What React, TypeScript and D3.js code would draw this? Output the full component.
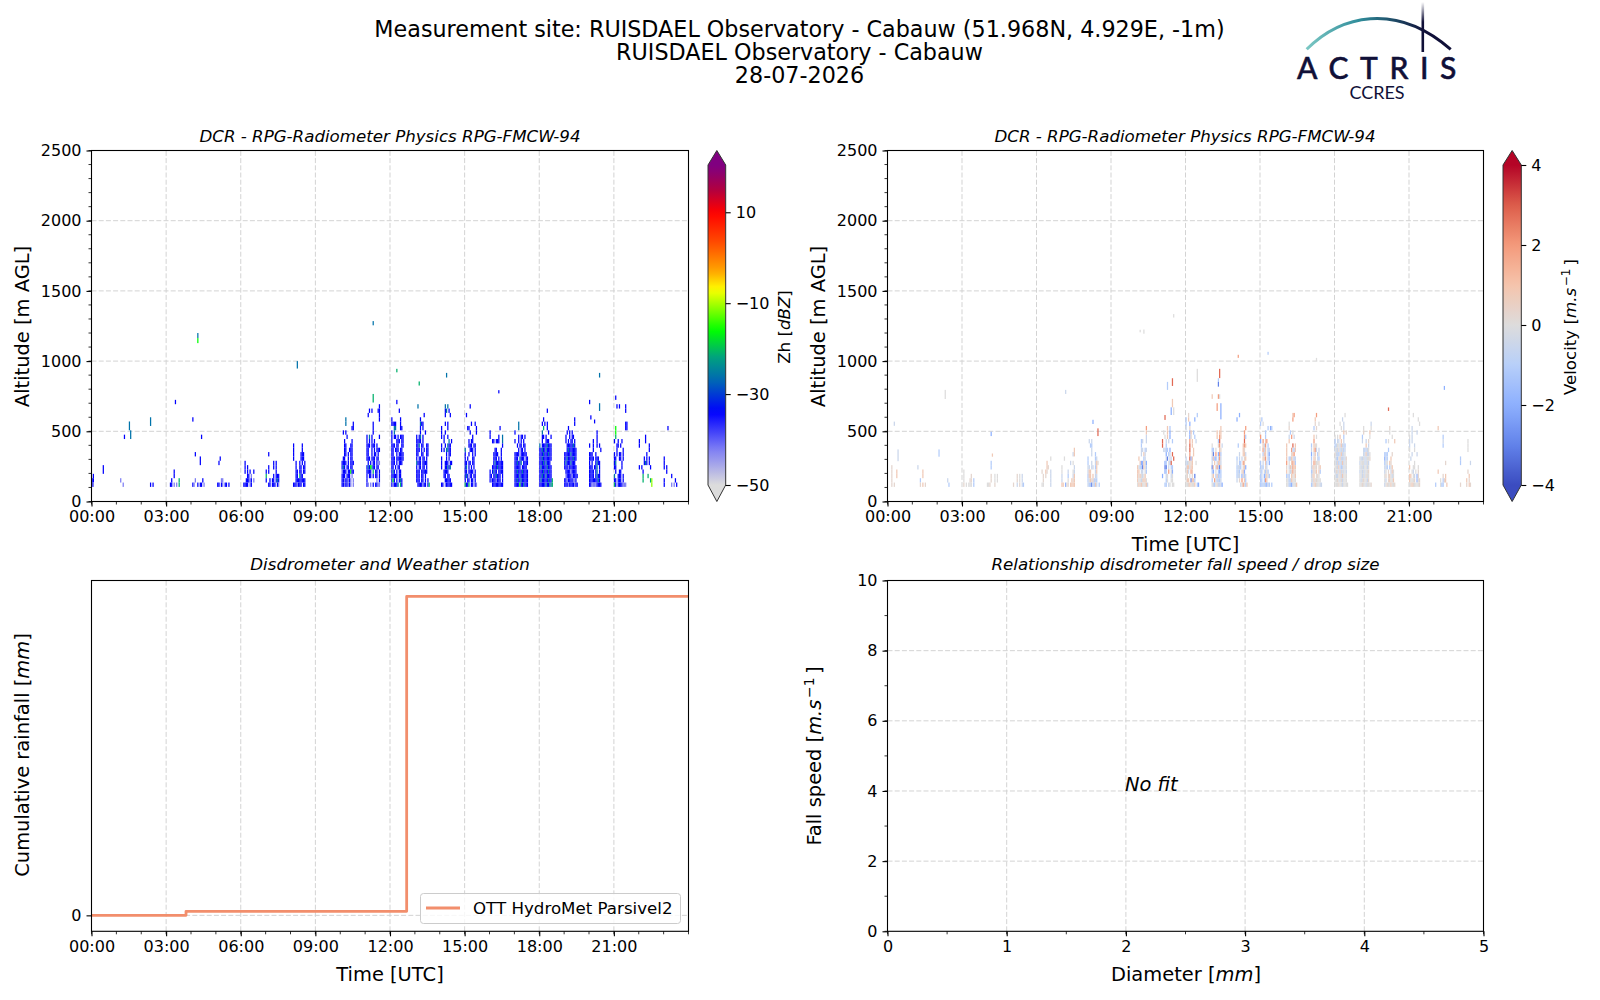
import React, { useEffect, useRef } from "react";
import * as d3 from "d3";

type Burst = { col: number; rows: string[] };
type Speck = [number, number, number, string];

// radar sampling: 3 minute columns, 31 m range gates starting at 104 m
const binMinutes = 3;
const gateBase = 104;
const gateSize = 31;

const timeTicks = [0, 3, 6, 9, 12, 15, 18, 21];
const timeLabels = ["00:00", "03:00", "06:00", "09:00", "12:00", "15:00", "18:00", "21:00"];
const hourMinor = d3.range(0, 25);
const altTicks = [0, 500, 1000, 1500, 2000, 2500];
const altMinor = d3.range(0, 2501, 100);

const zhBarTicks = [-50, -30, -10, 10];
const zhStops = [-50, -42, -34, -27, -22, -16, -7, -3, 3, 10, 15, 20];
const zhColors = ["#dcdcdc", "#7c7cf4", "#0000ff", "#0068b4", "#00a080", "#00ff00", "#ffff00", "#ffa500", "#ff5000", "#ff0000", "#b00040", "#800080"];
const velBarTicks = [-4, -2, 0, 2, 4];
const velStops = [-4, -3, -2, -1, 0, 1, 2, 3, 4];
const velColors = ["#3b4cc0", "#6282ea", "#8db0fe", "#b7cff9", "#dddcdc", "#f5c4ac", "#f49a7b", "#dc5d4a", "#b40426"];

// letter codes used in the rasters below
const zhLevels: Record<string, number> = { a: -42, b: -34, d: -26, e: -21, f: -16, g: -11 };
const velLevels: Record<string, number> = { a: -3, b: -2, c: -1.1, d: -0.5, e: 0, f: 0.3, g: 0.8, h: 1.9, i: 2.8 };

// each burst: first column, then gates from the top one down to the 104 m one
const zhBursts: Burst[] = [
    { col: 0, rows: [".b", "bb", "ba"] },
    { col: 63, rows: ["...b", "...b", ".b.....e", "bb.a.a.e"] },
    { col: 81, rows: ["..a.....b", "ba..b.bb.a"] },
    { col: 101, rows: ["..b", ".b", "", "", "", "...aa", "bb.ba.bb.b"] },
    { col: 122, rows: [".b", ".b.b", ".b.b.b..b", "...bb.a", "..bbbab.a", "bbbb.ab"] },
    { col: 140, rows: ["..b", "", "......b.b", "..b...b.b", "b.b.....b", "e.....b.bbb", "b..b.bb.bdb", "..bb.bbb.ba"] },
    { col: 162, rows: ["b......b", "b......b", "b.....bbb", "b.....bbb", "..b..b.b.b", "..b..bb.bb", "..bb.bb.bb", "..bb.ebb", "..bbbbbbbb", "bbbabbb.bb"] },
    { col: 201, rows: ["...d", "...d.....b", "........bb", ".b.b", "....b", "..b.....b", "..bb...bb", "..bb..bbb", "..bb.b.bb", ".bb..b.bb", "bbbb.b.bbb", "bdb.bb.bb", "abbb.bbfbb", "bbb.bbb.a", "bbabbaba.a", "bbabbaba.a"] },
    { col: 221, rows: ["..........b", "..b.b....bb", ".b........b", "..........b", ".....b", ".....b", ".....b", "b.d.b.....b", "b.b.b.b", "bbb.bbb.b", "bb..b.b.bbb", "bb..b.bb.b", "bbb.bbb.bb", ".b.b.bb.baa", "bdbfebb.bb", "bbbb.e.bb.b", "b.bb.b.bb.b", "b.......a.b", "ba.a.b.bbaa"] },
    { col: 241, rows: ["....b", "", "......b", "", "b......b", "bbbb...b", "..dd...bb", "b.d", "b.bb.b.bbb", "b...bbb.bb", "bbb.bb..bb", "bb.bbb.bb", "bb..b.bbbb", "bbb.bbbbbb", "bbb.b.bbb", "bb.b.bb", "bdb.b.bb", "bbbbb.bb", "bfb.b.bdb", "babbbd.eb"] },
    { col: 261, rows: [".d", "", "......b", "...b", "...dbb", "...b.b", "...b...b", "b.bd.b", "bbbb.b", "bbd.bb..bb", "bbb.b.b.bb", "bb..bb..bb", "b.bb.bb.b", "dbbb.bbbb", "b.bb.bb.b", "bbb.bbbbb", "bbb.bb.b", "bbb.bb.b.b", ".bbbbabb.be"] },
    { col: 281, rows: ["...d.d", "...bd.b", "...b...b", "", "...b.b", "b....b", "b..b", "b.b..b", "..b...d.b", "b..b.dbb", "b.b.ddbb", "....b.bb", "b...b.b", "b..bbb.bb", "b..bbdbd", "..bbbb", "..bb.bb", "...bbbbb", "bb.abbbbb"] },
    { col: 300, rows: ["....b", "", ".b", "", ".....b..b", "..bb.....b", "....b....b", "......b", "...b.bb", "...bbb.bb", "d...bbb.b", "b..b..b.b", "b.b...bb", "bb.bb.bb", "bd.b.b.b", "bb.bbbb.b", "bdb.bb.bb", "b.bb.bb.b", "ebbe.bb.ba"] },
    { col: 320, rows: ["........b", "b", "b......b..d", "..bb.bbb..d", "..........b", "....bb...b", "...bbbb..b", "...bbb.b.b", "...bdbbbbbb", "..bbbbdbbbb", "b.bdbb.bbbb", "bb.bbdbbb.b", "babbbabbb.b", "..bbbbbbbbb"] },
    { col: 340, rows: ["...d", "...d", "b", "...b.bb.b", "b..b.b.b", "..b.bb.bb", "...b.bb.b", "bbbb.bbbbb", "bbb.dbbb.bb", "bbdbbd.bbbb", "bbbbb.bbbb", "bbdbbbdbbbb", "bbbbdbbbbbb", "bbdbbdbbbbb", "bbbbfbbdbbb"] },
    { col: 360, rows: ["......b", "", "...b", "..b.b.b", "...e..b", "..d....b", "..bb.b...b", "..b..bbb", "d.bbbbdbbb", "bbdbbdbbbb", "bbbdbbbdbb", "bbdbbbbbbb", "bbbdbdbbb", "bdbbbbdbbb", "bbbdbbbdbb", "bbdbbdbbbb", "bdbbbbbdbbe", "bbbbbdbbdde"] },
    { col: 380, rows: ["........b", "........b", "...b", "..b.b.b", ".b..b.bb", ".b.b.bb.b", "..bbbbbdb", "..bdbbbbbb", "bbbbbdbbbb", "bbdbbbbdbb", "bdbbbdbbb", "bbbabbbbbb", ".bbbbabbbb", ".abbbbabbbb", "bbabbbbaab", "bbbabbbbabb"] },
    { col: 400, rows: ["......b", "......b", "...b..b", "b..b..b.b", "...b.....b", "bbb..b", "bbbb.bbb", "b.b..bdbb", "bbb.bbd.b", "bbbb.bd.b", "bbbb.bdbb", "bbbbbbbdb", "bbaaaabbbb"] },
    { col: 420, rows: [".b", "", "..b.b....b", ".........b", "", "", ".........bb", ".f.......bb", ".f", ".e", "b..b..b", "..bb.b", "..b....b", "b.b.bb.b", "bb..bb.b", "bd....b", "bb....b", ".b..bb", "d..bbb.b", "bb.bbb.b", "eb.bbbbaaa"] },
    { col: 440, rows: [".....b", "b....b", "b.......b", "........b", "......b", "....b.b.b", "....bdb.b", "b.b......b", "...b", "...e...e", "...e.....eg", "..........g"] },
    { col: 460, rows: ["b", "b", "b.b", "..b", "......b", "b........b", "b.....a.a.b"] },
];

// single returns away from the bursts: column, bottom m, top m, letter
const zhSpecks: Speck[] = [
    [9, 197, 259, "b"], [23, 135, 166, "a"], [25, 104, 135, "a"], [26, 445, 476, "b"], [30, 507, 570, "d"], [31, 445, 507, "d"],
    [47, 538, 600, "d"], [47, 104, 135, "b"], [49, 104, 135, "b"], [67, 693, 724, "b"], [81, 569, 600, "b"], [83, 321, 352, "b"],
    [87, 259, 321, "b"], [88, 445, 476, "b"], [85, 1128, 1164, "f"], [85, 1164, 1200, "d"], [165, 947, 1000, "d"], [245, 920, 945, "e"],
    [263, 826, 855, "e"], [285, 883, 916, "d"], [327, 770, 793, "b"], [408, 883, 916, "d"], [226, 705, 766, "e"], [226, 1255, 1285, "d"],
    [400, 693, 724, "b"], [408, 645, 700, "d"], [401, 584, 614, "b"], [404, 556, 584, "b"], [463, 507, 538, "b"],
];

const velBursts: Burst[] = [
    { col: 3, rows: ["f", "f...g", "f...g", "f", "f.f"] },
    { col: 24, rows: ["d", "....g", "....g", "..c", "..f.g.f"] },
    { col: 61, rows: ["e", "e.....f", "e....ff.c", "f.e.eee.c"] },
    { col: 80, rows: ["...c", "...c", "", "...f..e.e", "...f..e.e", "eef...f"] },
    { col: 101, rows: ["...f.e.d", "...f.e.d", "f..d.f.dc"] },
    { col: 124, rows: [".......e", "....g", "....gf", "f..gf..d", ".f.f...d", ".f.....d", "ee.....d"] },
    { col: 140, rows: ["..........g", ".........dg", "..e", ".......d.e", "e.........d", "e....d...ed", "d....c...dg", "d....e..gfg", "gg.bef.gggg"] },
    { col: 161, rows: [".d.d", "..cc", "...d", "...d..c", "c.....cd", "c..d..dgf", "dd.dd.cg", "dgg...dg", "cgg.g.dd", "cegegcdc", "dccadcgd.c"] },
    { col: 201, rows: [".......h", ".......g", ".......d", "...cd..d", "...c", "...dd.cd", "...d.gd", ".g...cd", "..gbbgeb", "geccagec", "gg.dd.ec", "gfgedeg", "geedfgge", "egfgeefgd"] },
    { col: 221, rows: ["....g.c", ".e..g.b", "..e.g.b", "i..d.d..c", "i..c", ".ddcc.b", "...b.cd.i", "...da.dd.i", "..bc.eci", "..aa.d.cc", "..bc.h.eb", "b..de..de", "...ce..ee", "..cc.de.ee"] },
    { col: 240, rows: ["..f......c", "c.g....b", "c..b", "d..f", "...bg.c", "...bf..c", "f..h.g..d", "f..i.g", "f..i..g", "...h..g", "d..ibg", "ddeffg..e", "dggdgg", "egd.hg", "ef.e.f.a", "egg.aggc", "eefgfeeg.cb"] },
    { col: 261, rows: [".......g", "....g.gg", "....g.hg", ".....ci", "e....fh.d", "cc.e..gf", "ea.h.bhc", "cgcb.dhd", "d.g.dggd", "ag.dhdag", "cb.e.cbc", "eg.cgcdc", "c.hecdcd", "edcefdddb"] },
    { col: 281, rows: ["..b", "b", "", ".......h", "......h", "......hc", "......i", ".c...ghg", ".....gf", "..d..ggd", "c.d.d.fg", "d.cc.hg", "cddc.fgb", "cdc.fgb", "cdd.bfcd", "d.f.h.gc", "...dehecg"] },
    { col: 300, rows: [".c", "c.e", "......c.bc", "....c", "h...c", "b.h.gh", "..gdh.c", "..hdg.cd", "..cgg.cb", "..gfh.cc", "c.d.gc.b", "cdc.fd", "dc.ecfc", "cd.bdgec", "cc.chg", "cccdcbdc.c"] },
    { col: 321, rows: [".....gh", ".....h", "..e", "..f", "...c.e", "..d.h.d", "..g", "g....i.g", "g...hdcg", "g...fgh", "g.cdgfcd", "h.e.ghgc", "f.dgehgg", "g.edfhff", "cdc.gfeg", "eecdgfee", "eeccbdeeg"] },
    { col: 341, rows: ["....h", "...g", "...f..e", "..c.f", "", "..g.e", "..h", "c.gfe", "d.ghd.d", "b.dg.ce", "c.gf.dc", "d.hgeef", "dfgef.fg", "cdgeg.gc", "dfg.efe", "edgefeee", "cdfgeeedd"] },
    { col: 360, rows: ["........e", "......d", "....e..d", ".....e.d", ".......g.f", "e.e.g..c", "c.dd.g.d", "cdeedgddc", "dedfddecd", "fddcdgdde", "edcegddddf", "edfcddgdee", "eedgdcdede", "dfedgdeded", "eddefdgeee", "eefedfdeee", "eeefeedeeee"] },
    { col: 380, rows: [".........d", "...e.....e", "...f....g", "..c.....e", "..d..d.f", ".....g.d", "...dcdde", "...ddgdde", "eddeddeef", "deeedded", "ededeede", "dededeef", "eededfee", "edefeedf", "eefeedeeef"] },
    { col: 400, rows: ["....f", "....e", "......e", ".c.e....g", "", "...c", "ccc...f", "bdc..g", "cde.gf", "ddc.ceg", "de.f.dge", "ef.fgede", "ed.fgeeg", "defeegeef"] },
    { col: 420, rows: ["...e", ".......e", "........e", "..d", "..d...d", "e.d", "d.d", "d...d", "e...e", "..d...d", ".d", "....e", "g..ee..e", "..ed.e.f", "gg.ed.bf", "geeef.bef", "efgfeeeef"] },
    { col: 441, rows: ["..g", "", "......c", "......d", "......c", "", "", "", "........f", "", "..g", "......f.g", "....e.cfg", "c...ecc..g"] },
    { col: 461, rows: ["......e", "......e", "......e", "", "c", "c.......d", "", "......f", ".......g", ".....g.f", "f....f.gf"] },
];

const velSpecks: Speck[] = [
    [5, 539, 569, "d"], [8, 287, 371, "d"], [41, 319, 371, "c"], [48, 135, 166, "d"], [49, 104, 135, "c"], [46, 730, 795, "e"],
    [143, 766, 795, "d"], [203, 1205, 1223, "e"], [206, 1195, 1225, "e"], [230, 1310, 1335, "e"], [282, 1023, 1045, "h"], [306, 1045, 1066, "c"],
    [345, 1000, 1023, "e"], [448, 795, 823, "b"], [403, 645, 670, "i"], [83, 466, 497, "b"], [84, 319, 342, "g"], [165, 552, 582, "b"],
    [169, 466, 521, "i"], [229, 823, 878, "i"], [225, 795, 852, "c"], [229, 671, 731, "g"], [228, 616, 671, "b"], [230, 616, 671, "e"],
    [223, 581, 616, "i"], [249, 852, 945, "e"], [267, 879, 945, "i"], [266, 852, 878, "c"], [266, 818, 852, "a"], [261, 731, 764, "g"],
    [266, 731, 764, "h"], [267, 731, 764, "e"], [265, 645, 700, "h"], [268, 585, 700, "b"],
];

// cumulative rain gauge steps
const rainHours = [0, 3.8, 3.8, 12.67, 12.67, 24];
const rainValues = [0, 0, 0.04, 0.04, 3.2, 3.2];

const diameterTicks = [0, 1, 2, 3, 4, 5];
const speedTicks = [0, 2, 4, 6, 8, 10];

const FONT = "'DejaVu Sans', sans-serif";
const GRID = "#d3d3d3";

function drawFrame(g: any, x: any, y: any, xTicks: number[], xLabels: string[], xMinor: number[], yTicks: number[], yLabels: string[], yMinor: number[]) {
    const [x0, x1] = x.range();
    const [y0, y1] = y.range();

    // grid first so the data sits on top
    const dash = "5,2.2";
    xTicks.forEach(t => {
        if (x(t) > x0 + 1 && x(t) < x1 - 1)
            g.append("line").attr("x1", x(t)).attr("x2", x(t)).attr("y1", y0).attr("y2", y1).attr("stroke", GRID).attr("stroke-width", 1).attr("stroke-dasharray", dash);
    });
    yTicks.forEach(t => {
        if (y(t) < y0 - 1 && y(t) > y1 + 1)
            g.append("line").attr("x1", x0).attr("x2", x1).attr("y1", y(t)).attr("y2", y(t)).attr("stroke", GRID).attr("stroke-width", 1).attr("stroke-dasharray", dash);
    });
    return () => {
        const axisX = d3.axisBottom(x).tickValues(xTicks).tickSize(5).tickPadding(4.5).tickFormat((_d: any, i: number) => xLabels[i]);
        const axisY = d3.axisLeft(y).tickValues(yTicks).tickSize(5).tickPadding(5).tickFormat((_d: any, i: number) => yLabels[i]);
        const gx = g.append("g").attr("transform", "translate(0," + y0 + ")").call(axisX as any);
        const gy = g.append("g").attr("transform", "translate(" + x0 + ",0)").call(axisY as any);
        gx.selectAll(".domain").remove();
        gy.selectAll(".domain").remove();
        [gx, gy].forEach(a => {
            a.selectAll("text").attr("font-family", FONT).attr("font-size", 16).attr("fill", "#000");
            a.selectAll("line").attr("stroke", "#000").attr("stroke-width", 1.1);
        });
        xMinor.forEach(t => {
            g.append("line").attr("x1", x(t)).attr("x2", x(t)).attr("y1", y0).attr("y2", y0 + 3).attr("stroke", "#000").attr("stroke-width", 0.8);
        });
        yMinor.forEach(t => {
            g.append("line").attr("x1", x0).attr("x2", x0 - 3).attr("y1", y(t)).attr("y2", y(t)).attr("stroke", "#000").attr("stroke-width", 0.8);
        });
        g.append("rect").attr("x", x0).attr("y", y1).attr("width", x1 - x0).attr("height", y0 - y1).attr("fill", "none").attr("stroke", "#000").attr("stroke-width", 1.1);
    };
}

function addText(g: any, str: string, px: number, py: number, size: number, opts: any = {}) {
    const t = g.append("text").attr("x", px).attr("y", py).attr("font-family", FONT).attr("font-size", size)
        .attr("text-anchor", opts.anchor || "middle").attr("fill", "#000").attr("font-style", opts.italic ? "italic" : "normal");
    if (opts.rotate) t.attr("transform", "rotate(-90 " + px + " " + py + ")");
    // small markup: {x} = italic, ^{x} = superscript
    const parts = str.split(/(\{[^}]*\}|\^[^ \]]+)/);
    parts.forEach(p => {
        if (!p) return;
        if (p[0] === "{") t.append("tspan").attr("font-style", "italic").text(p.slice(1, -1));
        else if (p[0] === "^") {
            t.append("tspan").attr("font-size", size * 0.72).attr("dy", -size * 0.38).attr("dx", 1.5).attr("font-style", "normal").text(p.slice(1));
            t.append("tspan").attr("dy", size * 0.38).attr("dx", 1.5).text("\u200a");
        } else t.append("tspan").text(p);
    });
    return t;
}

function drawRaster(g: any, x: any, y: any, bursts: Burst[], specks: Speck[], levels: Record<string, number>, color: any) {
    const cellW = Math.abs(x(binMinutes / 60) - x(0));
    bursts.forEach(b => {
        b.rows.forEach((row, i) => {
            const gate = b.rows.length - 1 - i;
            row.split("").forEach((c, j) => {
                if (c === ".") return;
                const alt = gateBase + gate * gateSize;
                g.append("rect")
                    .attr("x", x(((b.col + j) * binMinutes) / 60))
                    .attr("y", y(alt + gateSize))
                    .attr("width", cellW)
                    .attr("height", y(alt) - y(alt + gateSize))
                    .attr("fill", color(levels[c]));
            });
        });
    });
    specks.forEach(s => {
        g.append("rect")
            .attr("x", x((s[0] * binMinutes) / 60))
            .attr("y", y(s[2]))
            .attr("width", cellW)
            .attr("height", y(s[1]) - y(s[2]))
            .attr("fill", color(levels[s[3]]));
    });
}

function drawColorbar(svg: any, defs: any, id: string, x0: number, x1: number, scale: any, color: any, domain: number[], ticks: number[], tipY: number[], lowFill: string, highFill: string) {
    const grad = defs.append("linearGradient").attr("id", id).attr("x1", 0).attr("x2", 0).attr("y1", 1).attr("y2", 0);
    d3.range(0, 1.0001, 0.02).forEach(f => {
        grad.append("stop").attr("offset", f).attr("stop-color", color(domain[0] + f * (domain[1] - domain[0])));
    });
    const top = scale(domain[1]);
    const bot = scale(domain[0]);
    const mid = (x0 + x1) / 2;
    const g = svg.append("g");
    g.append("path").attr("d", `M${x0},${top}L${mid},${tipY[0]}L${x1},${top}Z`).attr("fill", highFill);
    g.append("path").attr("d", `M${x0},${bot}L${mid},${tipY[1]}L${x1},${bot}Z`).attr("fill", lowFill);
    g.append("rect").attr("x", x0).attr("y", top).attr("width", x1 - x0).attr("height", bot - top).attr("fill", `url(#${id})`);
    g.append("path").attr("d", `M${x0},${top}L${mid},${tipY[0]}L${x1},${top}L${x1},${bot}L${mid},${tipY[1]}L${x0},${bot}Z`).attr("fill", "none").attr("stroke", "#333").attr("stroke-width", 1);
    const axis = d3.axisRight(scale).tickValues(ticks).tickSize(5).tickPadding(5).tickFormat((d: any) => (d < 0 ? "\u2212" + Math.abs(d) : "" + d));
    const ga = g.append("g").attr("transform", "translate(" + x1 + ",0)").call(axis as any);
    ga.selectAll(".domain").remove();
    ga.selectAll("text").attr("font-family", FONT).attr("font-size", 16).attr("fill", "#000");
    ga.selectAll("line").attr("stroke", "#000").attr("stroke-width", 1.1);
}

function drawLogo(svg: any, defs: any) {
    const grad = defs.append("linearGradient").attr("id", "logoArc").attr("gradientUnits", "userSpaceOnUse").attr("x1", 1306).attr("x2", 1425).attr("y1", 0).attr("y2", 0);
    grad.append("stop").attr("offset", 0).attr("stop-color", "#7cc8c4");
    grad.append("stop").attr("offset", 0.45).attr("stop-color", "#2f8c9a");
    grad.append("stop").attr("offset", 1).attr("stop-color", "#101038");
    const fade = defs.append("linearGradient").attr("id", "logoMast").attr("x1", 0).attr("x2", 0).attr("y1", 0).attr("y2", 1);
    fade.append("stop").attr("offset", 0).attr("stop-color", "#101038").attr("stop-opacity", 0);
    fade.append("stop").attr("offset", 0.4).attr("stop-color", "#101038");
    svg.append("path").attr("d", "M1306.7,49.3C1340,16 1395,1 1450.7,49.3").attr("fill", "none").attr("stroke", "url(#logoArc)").attr("stroke-width", 3);
    svg.append("rect").attr("x", 1421.5).attr("y", 2).attr("width", 2.6).attr("height", 50).attr("fill", "url(#logoMast)");
    svg.append("text").attr("x", 1297).attr("y", 78.5).attr("font-family", "Lato, 'Open Sans', sans-serif").attr("font-size", 30).attr("font-weight", 500).attr("stroke", "#101038").attr("stroke-width", 0.5).attr("fill", "#101038").attr("letter-spacing", 11.6).text("ACTRIS");
    svg.append("text").attr("x", 1377).attr("y", 99).attr("text-anchor", "middle").attr("font-family", "Lato, 'Open Sans', sans-serif").attr("font-size", 18).attr("fill", "#101038").text("CCRES");
}

export default function App() {
    const svgRef = useRef<SVGSVGElement | null>(null);

    useEffect(() => {
        const svg = d3.select(svgRef.current);
        svg.selectAll("*").remove();
        const defs = svg.append("defs");
        svg.append("rect").attr("width", 1600).attr("height", 1000).attr("fill", "#fff");

        // suptitle
        addText(svg, "Measurement site: RUISDAEL Observatory - Cabauw (51.968N, 4.929E, -1m)", 799.5, 36.7, 22.25);
        addText(svg, "RUISDAEL Observatory - Cabauw", 799.5, 59.7, 22.25);
        addText(svg, "28-07-2026", 799.5, 82.5, 22.25);
        drawLogo(svg, defs);

        const leftX = [91.5, 688.5];
        const rightX = [887.5, 1483.5];
        const topY = [501.5, 150.5];
        const botY = [931.3, 580.5];

        const zhColor = d3.scaleLinear<string>().domain(zhStops).range(zhColors).clamp(true);
        const velColor = d3.scaleLinear<string>().domain(velStops).range(velColors).clamp(true);

        // top left: reflectivity
        const x1 = d3.scaleLinear().domain([0, 24]).range(leftX);
        const y1 = d3.scaleLinear().domain([0, 2500]).range(topY);
        const g1 = svg.append("g");
        const finish1 = drawFrame(g1, x1, y1, timeTicks, timeLabels, hourMinor, altTicks, altTicks.map(String), altMinor);
        drawRaster(g1, x1, y1, zhBursts, zhSpecks, zhLevels, zhColor);
        finish1();
        addText(svg, "DCR - RPG-Radiometer Physics RPG-FMCW-94", 390, 142, 16.67, { italic: true });
        addText(svg, "Altitude [m AGL]", 29, 326.5, 19.44, { rotate: true });

        // top right: velocity
        const x2 = d3.scaleLinear().domain([0, 24]).range(rightX);
        const y2 = d3.scaleLinear().domain([0, 2500]).range(topY);
        const g2 = svg.append("g");
        const finish2 = drawFrame(g2, x2, y2, timeTicks, timeLabels, hourMinor, altTicks, altTicks.map(String), altMinor);
        drawRaster(g2, x2, y2, velBursts, velSpecks, velLevels, velColor);
        finish2();
        addText(svg, "DCR - RPG-Radiometer Physics RPG-FMCW-94", 1185, 142, 16.67, { italic: true });
        addText(svg, "Altitude [m AGL]", 825, 326.5, 19.44, { rotate: true });
        addText(svg, "Time [UTC]", 1185.5, 551, 19.44);

        // colour bars
        const zhScale = d3.scaleLinear().domain([-50, 20.4]).range([485, 165]);
        drawColorbar(svg, defs, "zhBar", 708, 725.7, zhScale, zhColor, [-50, 20.4], zhBarTicks, [150.5, 501.5], "#dcdcdc", "#800080");
        addText(svg, "Zh [{dBZ}]", 790, 327, 16.67, { rotate: true });
        const velScale = d3.scaleLinear().domain([-4, 4]).range([485, 165]);
        drawColorbar(svg, defs, "velBar", 1503, 1521.3, velScale, velColor, [-4, 4], velBarTicks, [150.5, 501.5], "#3b4cc0", "#b40426");
        addText(svg, "Velocity [{m.s}^\u22121]", 1576, 327, 16.67, { rotate: true });

        // bottom left: cumulative rainfall
        const x3 = d3.scaleLinear().domain([0, 24]).range(leftX);
        const y3 = d3.scaleLinear().domain([-0.16, 3.36]).range(botY);
        const g3 = svg.append("g");
        const finish3 = drawFrame(g3, x3, y3, timeTicks, timeLabels, hourMinor, [0], ["0"], []);
        const rainLine = d3.line<number>().x((_d, i) => x3(rainHours[i])).y(d => y3(d));
        g3.append("path").attr("d", rainLine(rainValues)).attr("fill", "none").attr("stroke", "#f28e6c").attr("stroke-width", 2.8).attr("stroke-linejoin", "round");
        finish3();
        addText(svg, "Disdrometer and Weather station", 390, 570, 16.67, { italic: true });
        addText(svg, "Cumulative rainfall [{mm}]", 29, 755, 19.44, { rotate: true });
        addText(svg, "Time [UTC]", 390, 981, 19.44);

        // legend
        const lg = svg.append("g");
        lg.append("rect").attr("x", 420.5).attr("y", 893.5).attr("width", 260).attr("height", 30).attr("rx", 3).attr("fill", "#fff").attr("fill-opacity", 0.8).attr("stroke", "#ccc").attr("stroke-width", 1);
        lg.append("line").attr("x1", 426).attr("x2", 460).attr("y1", 908).attr("y2", 908).attr("stroke", "#f28e6c").attr("stroke-width", 2.8);
        addText(lg, "OTT HydroMet Parsivel2", 473, 914, 16.67, { anchor: "start" });

        // bottom right: fall speed, nothing fitted
        const x4 = d3.scaleLinear().domain([0, 5]).range(rightX);
        const y4 = d3.scaleLinear().domain([0, 10]).range(botY);
        const g4 = svg.append("g");
        const finish4 = drawFrame(g4, x4, y4, diameterTicks, diameterTicks.map(String), d3.range(0, 5.01, 0.5), speedTicks, speedTicks.map(String), d3.range(0, 10.01, 1));
        finish4();
        addText(svg, "Relationship disdrometer fall speed / drop size", 1185.5, 570, 16.67, { italic: true });
        addText(svg, "Fall speed [{m.s}^\u22121]", 821, 756, 19.44, { rotate: true });
        addText(svg, "Diameter [{mm}]", 1186, 981, 19.44);
        addText(svg, "No fit", x4(2) - 1, y4(4), 19.44, { anchor: "start", italic: true });
    }, []);

    return <svg ref={svgRef} width={1600} height={1000} style={{ position: "absolute", left: 0, top: 0, display: "block" }} />;
}
